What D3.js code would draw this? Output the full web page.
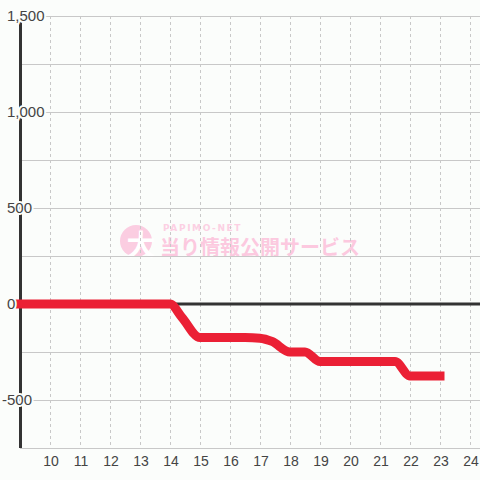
<!DOCTYPE html>
<html>
<head>
<meta charset="utf-8">
<script src="https://cdn.jsdelivr.net/npm/d3@7"></script>
<style>
  html, body { margin: 0; padding: 0; background: #fbfdfb; }
  svg { display: block; }
</style>
</head>
<body>
<svg id="chart"></svg>
<script>
// Chart size, fills the whole window.
const SVG_WIDTH = 480;
const SVG_HEIGHT = 480;

// Hour of day and running balance.
const hours = [9, 13, 14, 14.4, 15, 16.5, 17, 17.4, 18, 18.5, 19, 20, 21.5, 22, 23];
const balance = [0, 0, 0, -70, -175, -175, -178, -195, -250, -250, -300, -300, -300, -375, -375];

const xTicks = [10, 11, 12, 13, 14, 15, 16, 17, 18, 19, 20, 21, 22, 23, 24];
const yTicks = [-500, 0, 500, 1000, 1500];
const yGrid = [-750, -500, -250, 0, 250, 500, 750, 1000, 1250, 1500];

const svg = d3.select('#chart')
  .attr('width', SVG_WIDTH)
  .attr('height', SVG_HEIGHT)
  .attr('viewBox', `0 0 ${SVG_WIDTH} ${SVG_HEIGHT}`);

const bg = '#fbfdfb';

svg.append('rect')
  .attr('width', SVG_WIDTH)
  .attr('height', SVG_HEIGHT)
  .attr('fill', bg);

// 30px per hour, 48px per 250
const x = d3.scaleLinear().domain([9, 24 + 1 / 3]).range([20, 480]);
const y = d3.scaleLinear().domain([-750, 1500]).range([448, 16]);

// watermark goes under the grid
const wm = svg.append('g').attr('class', 'watermark');
wm.append('circle')
  .attr('cx', 136).attr('cy', 241).attr('r', 16)
  .attr('fill', '#fbcde1');
wm.append('text')
  .attr('x', 141).attr('y', 256)
  .attr('text-anchor', 'middle')
  .attr('font-family', '"Noto Sans CJK JP"')
  .attr('font-weight', 'bold')
  .attr('font-size', 29)
  .attr('fill', '#ffffff')
  .text('大');
wm.append('text')
  .attr('x', 163).attr('y', 231)
  .attr('font-family', '"DejaVu Sans"')
  .attr('font-weight', 'bold')
  .attr('font-size', 9)
  .attr('letter-spacing', 1.6)
  .attr('fill', '#fcd0e3')
  .text('PAPIMO-NET');
wm.append('text')
  .attr('x', 160).attr('y', 255)
  .attr('font-family', '"Noto Sans CJK JP"')
  .attr('font-weight', 'bold')
  .attr('font-size', 20)
  .attr('fill', '#fcc9df')
  .text('当り情報公開サービス');

// horizontal grid
svg.append('g')
  .selectAll('line')
  .data(yGrid)
  .enter()
  .append('line')
  .attr('x1', 20).attr('x2', SVG_WIDTH)
  .attr('y1', d => y(d) + 0.5).attr('y2', d => y(d) + 0.5)
  .attr('stroke', '#c8c8c8')
  .attr('stroke-width', 1);

// vertical dashed grid
svg.append('g')
  .selectAll('line')
  .data(xTicks)
  .enter()
  .append('line')
  .attr('x1', d => x(d) + 0.5).attr('x2', d => x(d) + 0.5)
  .attr('y1', y(1500)).attr('y2', y(-750))
  .attr('stroke', '#c8c8c8')
  .attr('stroke-dasharray', '3,3')
  .attr('stroke-width', 1);

// zero line
svg.append('line')
  .attr('x1', 20).attr('x2', SVG_WIDTH)
  .attr('y1', y(0)).attr('y2', y(0))
  .attr('stroke', '#333')
  .attr('stroke-width', 3);

// y axis line
svg.append('line')
  .attr('x1', 20.5).attr('x2', 20.5)
  .attr('y1', y(1500)).attr('y2', y(-750))
  .attr('stroke', '#333')
  .attr('stroke-width', 3);

// the data line
const line = d3.line()
  .x((d, i) => x(hours[i]))
  .y(d => y(d))
  .curve(d3.curveMonotoneX);

svg.append('path')
  .datum(balance)
  .attr('d', line)
  .attr('fill', 'none')
  .attr('stroke', '#eb2035')
  .attr('stroke-width', 9)
  .attr('stroke-linecap', 'square')
  .attr('stroke-linejoin', 'round');

// y labels sit on top of the axis with a background halo
const fmt = d3.format(',');
svg.append('g')
  .selectAll('text')
  .data(yTicks)
  .enter()
  .append('text')
  .attr('x', d => d < 0 ? 2 : 7)
  .attr('y', d => y(d) + 5)
  .attr('font-family', '"Liberation Sans", Arial, sans-serif')
  .attr('font-size', 15)
  .attr('fill', '#444')
  .attr('stroke', bg)
  .attr('stroke-width', 4)
  .attr('paint-order', 'stroke')
  .text(d => fmt(d).replace('−', '-'));

// x labels
svg.append('g')
  .selectAll('text')
  .data(xTicks)
  .enter()
  .append('text')
  .attr('x', d => x(d) + 1)
  .attr('y', 466)
  .attr('text-anchor', 'middle')
  .attr('font-family', '"Liberation Sans", Arial, sans-serif')
  .attr('font-size', 14)
  .attr('fill', '#444')
  .text(d => d);
</script>
</body>
</html>
